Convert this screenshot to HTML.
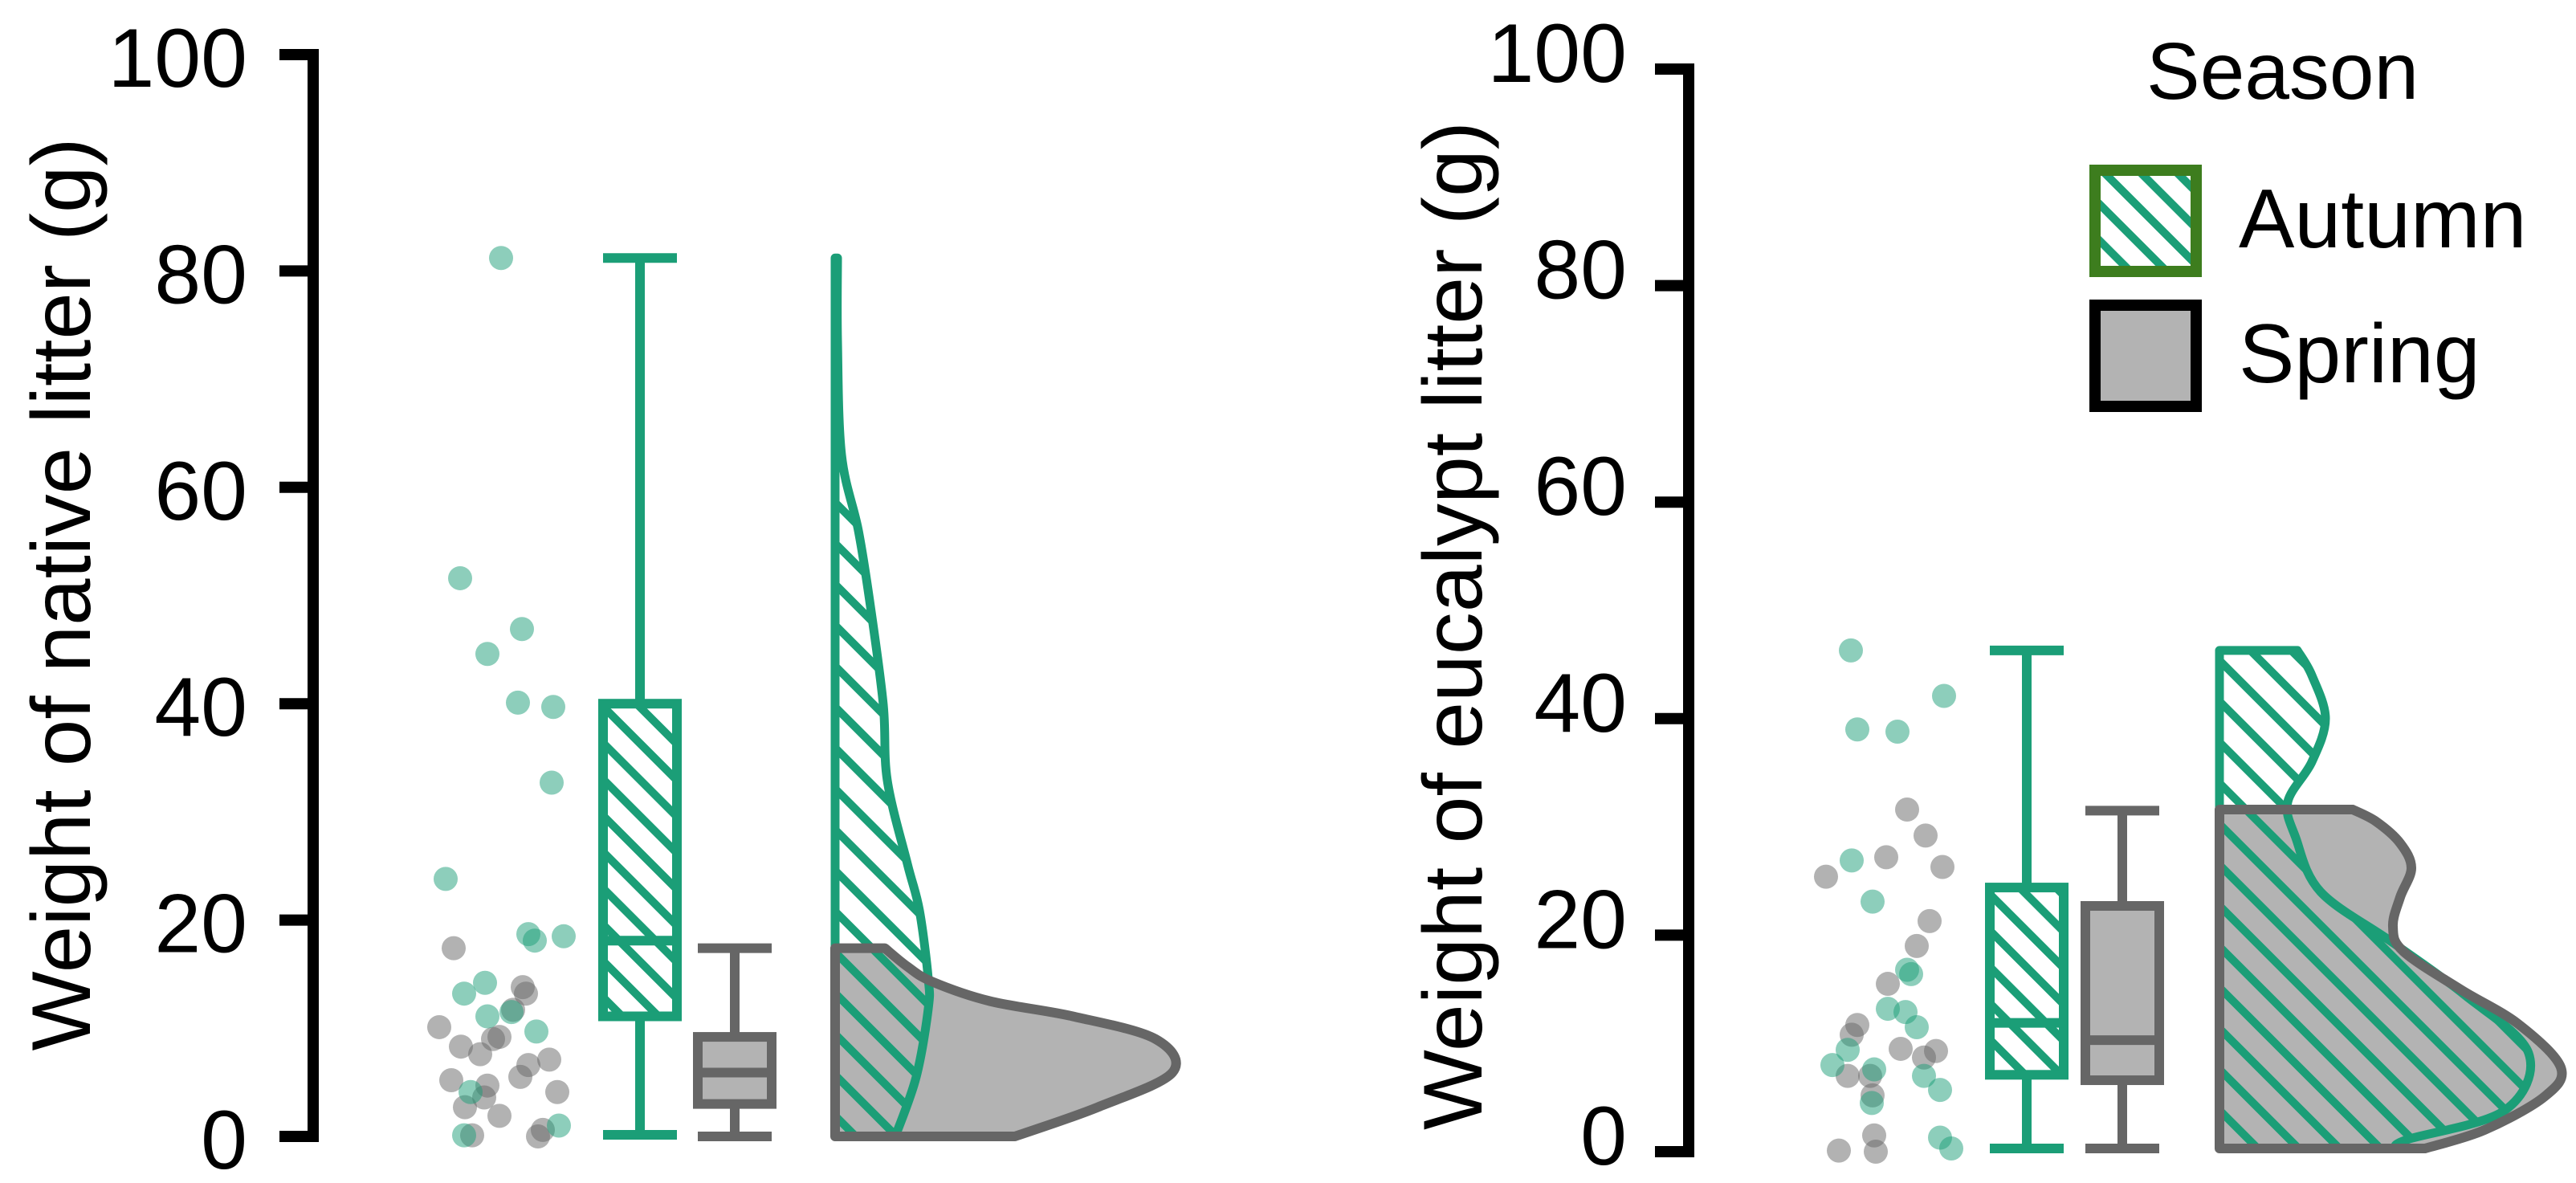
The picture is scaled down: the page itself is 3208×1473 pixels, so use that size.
<!DOCTYPE html>
<html><head><meta charset="utf-8"><style>
html,body{margin:0;padding:0;background:#fff;}
svg{display:block;font-family:"Liberation Sans",sans-serif;}
</style></head><body>
<svg id="chart" width="3208" height="1473" viewBox="0 0 3208 1473" xmlns="http://www.w3.org/2000/svg">
<defs>
<pattern id="hatchW" patternUnits="userSpaceOnUse" width="32" height="32" patternTransform="rotate(-45)">
<rect width="32" height="32" fill="#fff"/><rect x="0" y="0" width="10" height="32" fill="#1b9e77"/>
</pattern>
<pattern id="hatchT" patternUnits="userSpaceOnUse" width="36" height="36" patternTransform="rotate(-45)">
<rect x="0" y="0" width="10" height="36" fill="#1b9e77"/>
</pattern>
</defs>
<g id="root"></g>
</svg>
<script>
// ---------- data ----------
const yTicks = [0, 20, 40, 60, 80, 100];
const seasons = ["Autumn", "Spring"];
// Native litter (left panel)
const nativeAutumnPts = [81.2,51.6,46.9,44.6,40.1,39.7,32.7,23.8,18.7,18.1,18.5,13.2,14.2,11.1,11.5,9.7,4.1,1.0,0.1];
const nativeAutumnJit = [624,573,650,607,645,689,687,555,658,666,702,578,604,607,637,668,586,696,578];
const nativeSpringPts = [17.4,13.8,13.2,11.7,10.1,9.2,9.0,8.3,7.6,7.1,6.6,5.2,5.5,4.7,3.6,4.1,2.7,1.9,0.6,0.1,0];
const nativeSpringJit = [565,651,655,639,547,622,614,574,598,684,658,562,648,607,603,694,579,622,676,588,670];
const nativeAutumnBox = [0.15, 11.1, 18.1, 40, 81.2];
const nativeSpringBox = [0, 3, 5.9, 9.2, 17.4];
const nativeAutumnDensV = [0,5.5,11.8,14.6,20.9,25.2,32.9,39.9,49,56,63,73.5,81.2];
const nativeAutumnDensW = [75,101,116,116,105,90,65,60,44,29,8,3,3];
const nativeSpringDensV = [0,2.7,5.9,9,11.1,12.5,14.3,15.7,17.4];
const nativeSpringDensW = [224,327,420,399,296,193,121,90,62];
// Eucalypt litter (right panel)
const eucAutumnPts = [46.3,42.1,39.0,38.8,26.9,23.1,16.4,16.8,13.2,12.9,11.5,9.4,8.0,7.6,7.0,5.7,4.5,1.3,0.3];
const eucAutumnJit = [2305,2421,2313,2363,2306,2332,2380,2375,2351,2373,2387,2301,2282,2334,2396,2416,2331,2416,2430];
const eucSpringPts = [31.6,29.2,27.2,26.3,25.4,21.3,19.0,15.5,11.7,10.8,9.5,9.3,8.7,7.0,7.0,5.2,1.5,0.1,0];
const eucSpringJit = [2375,2398,2349,2419,2274,2403,2387,2351,2313,2306,2367,2411,2396,2301,2329,2332,2334,2290,2336];
const eucAutumnBox = [0.3, 7.1, 11.9, 24.4, 46.3];
const eucSpringBox = [0.3, 6.6, 10.3, 22.7, 31.5];
const eucAutumnDensV = [0.3,1.1,3.8,9.1,14.5,19.3,24,29,32.3,36,40,44,46.3];
const eucAutumnDensW = [220,233,355,385,305,216,126,95,85,115,132,115,97];
const eucSpringDensV = [0.3,2,5.1,7.8,11.8,15,18.5,20.8,23.5,26.2,28.5,30.5,31.6];
const eucSpringDensW = [256,330,405,425,372,300,229,216,225,239,225,195,166];

const NS = "http://www.w3.org/2000/svg";
const root = document.getElementById("root");
const GREEN = "#1b9e77", GRAY = "#666666", FILL = "#b3b3b3";
function mk(tag, attrs, parent) {
  const e = document.createElementNS(NS, tag);
  for (const k in attrs) e.setAttribute(k, attrs[k]);
  (parent || root).appendChild(e);
  return e;
}
function curve(pts) {
  let d = "";
  for (let i = 0; i < pts.length - 1; i++) {
    const p0 = pts[Math.max(0, i - 1)], p1 = pts[i], p2 = pts[i + 1], p3 = pts[Math.min(pts.length - 1, i + 2)];
    const c1 = [p1[0] + (p2[0] - p0[0]) / 6, p1[1] + (p2[1] - p0[1]) / 6];
    const c2 = [p2[0] - (p3[0] - p1[0]) / 6, p2[1] - (p3[1] - p1[1]) / 6];
    d += ` C${c1[0]},${c1[1]} ${c2[0]},${c2[1]} ${p2[0]},${p2[1]}`;
  }
  return d;
}
function violinPath(base, yS, vals, ws) {
  const pts = [];
  for (let i = vals.length - 1; i >= 0; i--) pts.push([base + ws[i], yS(vals[i])]);
  const top = yS(vals[vals.length - 1]), bot = yS(vals[0]);
  return `M${base},${top} L${pts[0][0]},${pts[0][1]}` + curve(pts) + ` L${base},${bot} Z`;
}

function panel(cfg) {
  const yS = v => cfg.y0 - (cfg.y0 - cfg.y100) * v / 100;
  const g = mk("g", {});
  
  
  const ax = mk("line", {x1: cfg.axX, x2: cfg.axX, y1: yS(100) - 7, y2: yS(0) + 7, stroke: "#000", "stroke-width": 14}, g);
  
  
  yTicks.forEach(t => {
    const tk = mk("line", {x1: cfg.axX - 42, x2: cfg.axX, y1: yS(t), y2: yS(t), stroke: "#000", "stroke-width": 14}, g);
    
    
    const tl = mk("text", {x: cfg.labX, y: yS(t) + cfg.labDy, "text-anchor": "end", "font-size": 104, fill: "#000"}, g);
    tl.textContent = t;
    
    
  });
  const ti = mk("text", {transform: `translate(${cfg.titleX},${cfg.titleY}) rotate(-90)`, "text-anchor": "middle", "font-size": 104, fill: "#000", textLength: cfg.titleLen, lengthAdjust: "spacingAndGlyphs"}, g);
  ti.textContent = cfg.title;
  
  
  cfg.spPts.forEach((v, i) => {
    const c = mk("circle", {cx: cfg.spJit[i], cy: yS(v), r: 15, fill: GRAY, "fill-opacity": 0.5}, g);
    
    
  });
  cfg.auPts.forEach((v, i) => {
    const c = mk("circle", {cx: cfg.auJit[i], cy: yS(v), r: 15, fill: GREEN, "fill-opacity": 0.5}, g);
    
    
  });
  function box(b, cx, hw, capHw, col, fill, nm) {
    const bg = mk("g", {}, g);
    
    
    const sw = 12;
    mk("line", {x1: cx, x2: cx, y1: yS(b[4]), y2: yS(b[3]), stroke: col, "stroke-width": sw}, bg);
    mk("line", {x1: cx, x2: cx, y1: yS(b[1]), y2: yS(b[0]), stroke: col, "stroke-width": sw}, bg);
    mk("line", {x1: cx - capHw, x2: cx + capHw, y1: yS(b[4]), y2: yS(b[4]), stroke: col, "stroke-width": sw}, bg);
    mk("line", {x1: cx - capHw, x2: cx + capHw, y1: yS(b[0]), y2: yS(b[0]), stroke: col, "stroke-width": sw}, bg);
    mk("rect", {x: cx - hw, y: yS(b[3]), width: 2 * hw, height: yS(b[1]) - yS(b[3]), fill: fill, stroke: col, "stroke-width": sw}, bg);
    mk("line", {x1: cx - hw, x2: cx + hw, y1: yS(b[2]), y2: yS(b[2]), stroke: col, "stroke-width": sw}, bg);
  }
  box(cfg.auBox, cfg.auBoxX, 46, 46, GREEN, "url(#hatchW)", "autumn-boxplot");
  box(cfg.spBox, cfg.spBoxX, 46, 46, GRAY, FILL, "spring-boxplot");
  const gp = violinPath(cfg.vBase, yS, cfg.spDV, cfg.spDW);
  const ap = violinPath(cfg.vBase, yS, cfg.auDV, cfg.auDW);
  const v1 = mk("path", {d: ap, fill: "#fff"}, g);
  
  
  const v2 = mk("path", {d: gp, fill: FILL}, g);
  
  
  const v3 = mk("path", {d: ap, fill: "url(#hatchT)", stroke: GREEN, "stroke-width": 11, "stroke-linejoin": "round"}, g);
  
  
  const v4 = mk("path", {d: gp, fill: "none", stroke: GRAY, "stroke-width": 12, "stroke-linejoin": "round"}, g);
  
  
}

panel({name: "native-panel", y0: 1415, y100: 68, axX: 390, labX: 308, labDy: 40,
  titleX: 112, titleY: 740, titleLen: 1137, title: "Weight of native litter (g)",
  auPts: nativeAutumnPts, auJit: nativeAutumnJit, spPts: nativeSpringPts, spJit: nativeSpringJit,
  auBox: nativeAutumnBox, spBox: nativeSpringBox, auBoxX: 797, spBoxX: 915,
  vBase: 1040, auDV: nativeAutumnDensV, auDW: nativeAutumnDensW, spDV: nativeSpringDensV, spDW: nativeSpringDensW});
panel({name: "eucalypt-panel", y0: 1434, y100: 86, axX: 2103, labX: 2026, labDy: 16,
  titleX: 1845, titleY: 779, titleLen: 1256, title: "Weight of eucalypt litter (g)",
  auPts: eucAutumnPts, auJit: eucAutumnJit, spPts: eucSpringPts, spJit: eucSpringJit,
  auBox: eucAutumnBox, spBox: eucSpringBox, auBoxX: 2524, spBoxX: 2643,
  vBase: 2764, auDV: eucAutumnDensV, auDW: eucAutumnDensW, spDV: eucSpringDensV, spDW: eucSpringDensW});

const lg = mk("g", {});


const lt = mk("text", {x: 2673, y: 123, "font-size": 100, fill: "#000"}, lg);
lt.textContent = "Season";


const legFill = ["url(#hatchW)", FILL], legStroke = ["#3d7d1e", "#000"], legY = [212, 380];
seasons.forEach((s, i) => {
  const r = mk("rect", {x: 2609, y: legY[i], width: 126, height: 126, fill: legFill[i], stroke: legStroke[i], "stroke-width": 14}, lg);
  
  
  const t = mk("text", {x: 2788, y: legY[i] + 96, "font-size": 104, fill: "#000"}, lg);
  t.textContent = s;
  
  
});
</script>
</body></html>
